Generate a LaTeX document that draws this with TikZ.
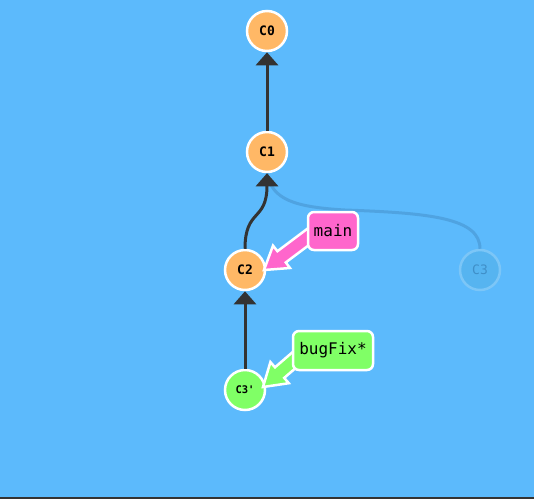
\documentclass[tikz,border=0pt]{standalone}
\usepackage{fontspec}
\setmonofont{DejaVu Sans Mono}
\usetikzlibrary{arrows.meta}
\definecolor{bgblue}{HTML}{5CBAFC}
\definecolor{nodeorange}{HTML}{FFB866}
\definecolor{nodegreen}{HTML}{80FF66}
\definecolor{labpink}{HTML}{FF66CC}
\definecolor{edgedark}{HTML}{333333}
\definecolor{fadefill}{HTML}{56B4F0}
\definecolor{fadeline}{HTML}{7CC6F7}
\definecolor{fadeedge}{HTML}{4A9AD6}
\definecolor{fadetext}{HTML}{3F8FC8}
\tikzset{
  commit/.style={circle, draw=white, line width=2.5pt, minimum size=40pt, inner sep=0pt,
    font=\ttfamily\bfseries\fontsize{13}{13}\selectfont, text=black},
  fadecommit/.style={commit, fill=fadefill, draw=fadeline, text=fadetext, font=\ttfamily\fontsize{13}{13}\selectfont},
  edge/.style={draw=edgedark, line width=3pt, -{Triangle[width=22pt,length=13pt]}},
  fadeedgestyle/.style={draw=fadeedge, line width=3pt, opacity=0.7},
  branch/.style={rectangle, rounded corners=6pt, draw=white, line width=2.5pt, inner sep=0pt,
    font=\ttfamily\fontsize{16}{16}\selectfont, text=black},
  branchptr/.style={draw=white, line width=2.5pt, line join=miter}
}
\begin{document}
\begin{tikzpicture}[x=1pt, y=-1pt]
\fill[bgblue] (0,0) rectangle (534,499);
\useasboundingbox (0,0) rectangle (534,499);
\fill[edgedark] (0,497) rectangle (534,499);

% commits
\node[commit, fill=nodeorange] (c0) at (267,31) {C0};
\node[commit, fill=nodeorange] (c1) at (267,152) {C1};
\node[commit, fill=nodeorange] (c2) at (245,270) {C2};
\node[fadecommit] (c3) at (480,270) {C3};
\node[commit, fill=nodegreen, font=\ttfamily\bfseries\fontsize{10.5}{10.5}\selectfont] (c3p) at (245,390) {C3'};

% edges
\draw[fadeedgestyle] (c3.north) .. controls (480,218) and (430,213) .. (345,210)
   .. controls (295,207) and (272,200) .. (c1.south);
\draw[edge] (c1.north) -- (c0.south);
\draw[edge] (c2.north) .. controls (245,208) and (267,222) .. (c1.south);
\draw[edge] (c3p.north) -- (c2.south);

% branch pointers
\filldraw[branchptr, fill=labpink] (264,270) -- (290,268) -- (285.8,262.4) -- (316.2,239.6)
  -- (307.8,228.4) -- (277.4,251.2) -- (273,245.6) -- cycle;
\node[branch, fill=labpink, minimum width=50pt, minimum height=38pt] (main) at (333,231) {main};

\filldraw[branchptr, fill=nodegreen] (263,387) -- (288.8,383.2) -- (284.2,377.9) -- (309.2,356.3)
  -- (300.0,345.7) -- (275.0,367.3) -- (270.4,362.0) -- cycle;
\node[branch, fill=nodegreen, minimum width=80pt, minimum height=39pt] (bugfix) at (333,350.5) {bugFix*};
\end{tikzpicture}
\end{document}
